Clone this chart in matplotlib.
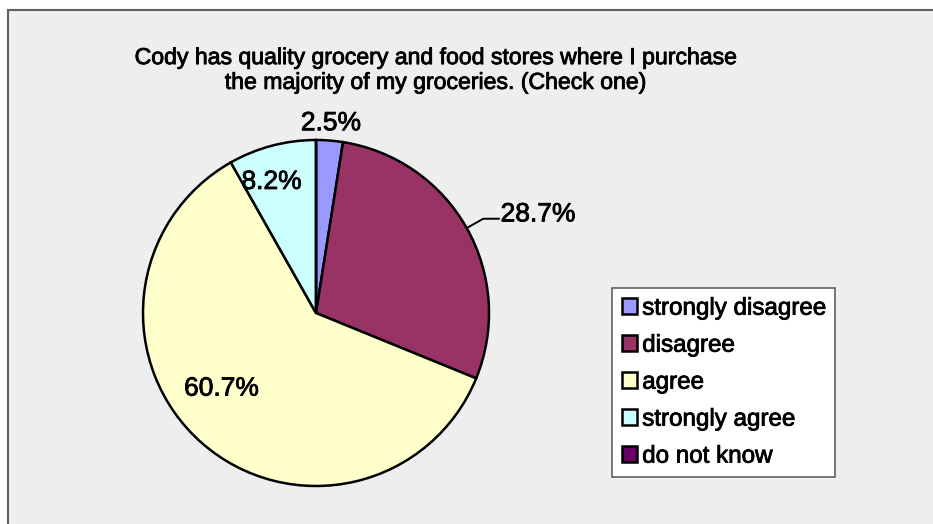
import numpy as np
import matplotlib.pyplot as plt
import matplotlib.patheffects as pe
from matplotlib.patches import Rectangle

plt.rcParams["font.family"] = ["Liberation Sans", "DejaVu Sans"]

title = "Cody has quality grocery and food stores where I purchase\nthe majority of my groceries. (Check one)"
categories = ["strongly disagree", "disagree", "agree", "strongly agree", "do not know"]
percents = [2.5, 28.7, 60.7, 8.2, 0.0]
colors = ["#9999FF", "#993366", "#FFFFCC", "#CCFFFF", "#660066"]

# slightly heavier text strokes
heavy = [pe.withStroke(linewidth=0.6, foreground="black")]

W, H = 933, 524
fig = plt.figure(figsize=(W / 100, H / 100), dpi=100, facecolor="white")

# grey chart area with its border
fig.patches.append(Rectangle((8 / W, -0.1), 1.2, (H - 10) / H + 0.1,
                             transform=fig.transFigure, facecolor="#EEEEEE",
                             edgecolor="#606060", linewidth=1.5, zorder=-5))

cx, cy, r = 316, 313, 173
ax = fig.add_axes([(cx - r) / W, (H - cy - r) / H, 2 * r / W, 2 * r / H])
ax.patch.set_alpha(0)
wedges, _ = ax.pie(percents, colors=colors, startangle=90, counterclock=False,
                   wedgeprops=dict(edgecolor="black", linewidth=1.8))
ax.set_xlim(-1, 1)
ax.set_ylim(-1, 1)
ax.set_aspect("auto")
ax.axis("off")

# label placement: (radial distance, angle shift in degrees, leader line)
placement = [(1.10, 0, False), (1.11, 0, True), (0.70, -10, False), (0.80, 4, False), None]
for w, pct, pl in zip(wedges, percents, placement):
    if pl is None or pct == 0:
        continue
    dist, shift, leader = pl
    mid = np.radians((w.theta1 + w.theta2) / 2)
    if leader:
        ex, ey = np.cos(mid), np.sin(mid)
        kx, ky = dist * np.cos(mid), dist * np.sin(mid)
        ax.plot([ex, kx, kx + 0.09], [ey, ky, ky], color="black", lw=1.4, clip_on=False)
        ax.text(kx + 0.1, ky + 0.025, f"{pct:.1f}%", ha="left", va="center",
                fontsize=19, clip_on=False, path_effects=heavy)
    else:
        a = mid + np.radians(shift)
        ax.text(dist * np.cos(a), dist * np.sin(a), f"{pct:.1f}%", ha="center",
                va="center", fontsize=19, clip_on=False, path_effects=heavy)

fig.text(435 / W, 1 - 70 / H, title, ha="center", va="center", fontsize=16.6,
         linespacing=1.1, path_effects=heavy)

leg = fig.legend(wedges, categories, loc="upper left",
                 bbox_to_anchor=(612 / W, 1 - 288 / H), fontsize=17.4,
                 frameon=True, fancybox=False, edgecolor="#606060",
                 facecolor="white", framealpha=1, handlelength=0.65,
                 handleheight=0.65, handletextpad=0.2, labelspacing=0.62,
                 borderpad=0.4, borderaxespad=0)
leg.get_frame().set_linewidth(1.2)
for t in leg.get_texts():
    t.set_path_effects(heavy)

fig.savefig("out.png", dpi=100, facecolor=fig.get_facecolor())
